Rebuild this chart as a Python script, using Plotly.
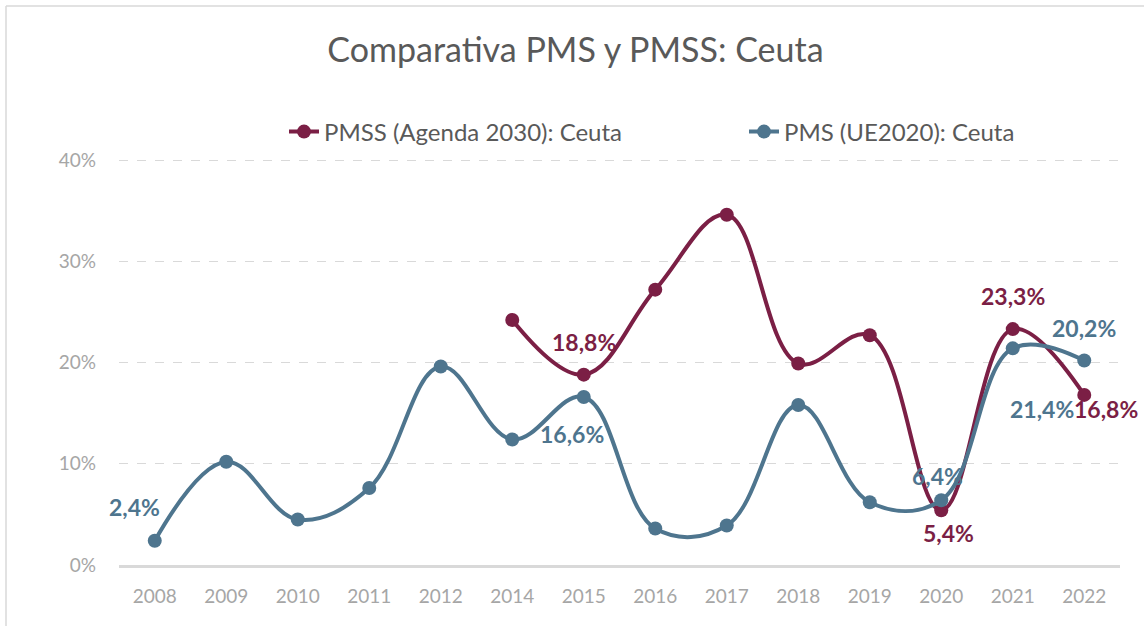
import plotly.graph_objects as go

years = ["2008", "2009", "2010", "2011", "2012", "2014", "2015", "2016",
         "2017", "2018", "2019", "2020", "2021", "2022"]
pms = [2.4, 10.2, 4.5, 7.6, 19.6, 12.4, 16.6, 3.6, 3.9, 15.8, 6.2, 6.4, 21.4, 20.2]
pmss = [None, None, None, None, None, 24.2, 18.8, 27.2, 34.6, 19.9, 22.7, 5.4, 23.3, 16.8]
y_ticks = [0, 10, 20, 30, 40]
y_tick_text = ["0%", "10%", "20%", "30%", "40%"]

name_pmss = "PMSS (Agenda 2030): Ceuta"
name_pms = "PMS (UE2020): Ceuta"

# which points carry a data label, with pixel offsets (style)
pms_labels = {"2008": (-20, 34), "2015": (-12, -37), "2020": (-4, 24),
              "2021": (29, -61), "2022": (0, 33)}
pmss_labels = {"2015": (0, 33), "2020": (7, -23), "2021": (0, 33),
               "2022": (22, -14)}

c_pmss = "#7B1F45"
c_pms = "#4E758E"
font = "Lato"

fig = go.Figure()
fig.add_trace(go.Scatter(
    x=years, y=pmss, name=name_pmss, mode="lines+markers", legend="legend",
    line=dict(color=c_pmss, width=4, shape="spline", smoothing=1.1),
    marker=dict(color=c_pmss, size=14), connectgaps=False))
fig.add_trace(go.Scatter(
    x=years, y=pms, name=name_pms, mode="lines+markers", legend="legend2",
    line=dict(color=c_pms, width=4, shape="spline", smoothing=1.1),
    marker=dict(color=c_pms, size=14)))

def fmt(v):
    return f"{v:.1f}".replace(".", ",") + "%"

for labels, vals, col in ((pms_labels, pms, c_pms), (pmss_labels, pmss, c_pmss)):
    for yr, (dx, dy) in labels.items():
        i = years.index(yr)
        v = vals[i]
        fig.add_annotation(x=i, y=v, xref="x", yref="y", text=fmt(v),
                           showarrow=False, xshift=dx, yshift=dy,
                           font=dict(family=font, size=23, color=col, weight="bold"))

# plot area: x 119..1120, y 156..565 (0..40.4)
W, H = 1001, 409
bx = (6 - 119) / W
by = 1 + (156 - 6) / H
fig.add_shape(type="line", xref="paper", yref="paper",
              x0=bx, x1=bx, y0=by, y1=-0.3,
              line=dict(color="#d9d9d9", width=1.5))
fig.add_shape(type="line", xref="paper", yref="paper",
              x0=bx, x1=1.1, y0=by, y1=by,
              line=dict(color="#d9d9d9", width=1.5))

leg_style = dict(orientation="h", xanchor="left", y=1 + 24 / H, yanchor="middle",
                 font=dict(family=font, size=24, color="#595959"),
                 bgcolor="rgba(0,0,0,0)")

fig.update_layout(
    width=1144, height=626,
    margin=dict(l=119, r=24, t=156, b=61, autoexpand=False),
    paper_bgcolor="white", plot_bgcolor="white",
    font=dict(family=font),
    title=dict(text="Comparativa PMS y PMSS: Ceuta", x=0.503, xanchor="center",
               y=1 - 50 / 626, yanchor="middle",
               font=dict(family=font, size=34, color="#595959")),
    legend=dict(x=(284 - 119) / W, **leg_style),
    legend2=dict(x=(744 - 119) / W, **leg_style),
    showlegend=True,
    xaxis=dict(type="category", range=[-0.5, 13.5], showgrid=False,
               showline=True, linecolor="#d9d9d9", linewidth=2.5,
               ticks="", tickfont=dict(family=font, size=19, color="#a6a6a6"),
               ticklabelstandoff=12),
    yaxis=dict(range=[0, 40.4], tickvals=y_ticks, ticktext=y_tick_text,
               showgrid=True, gridcolor="#d9d9d9", griddash="dash", gridwidth=1,
               zeroline=False, showline=False, ticks="",
               tickfont=dict(family=font, size=19, color="#a6a6a6"),
               ticklabelstandoff=22),
)

fig.write_html("out.html", config={"displayModeBar": False},
               post_script="document.body.style.margin='0';")
